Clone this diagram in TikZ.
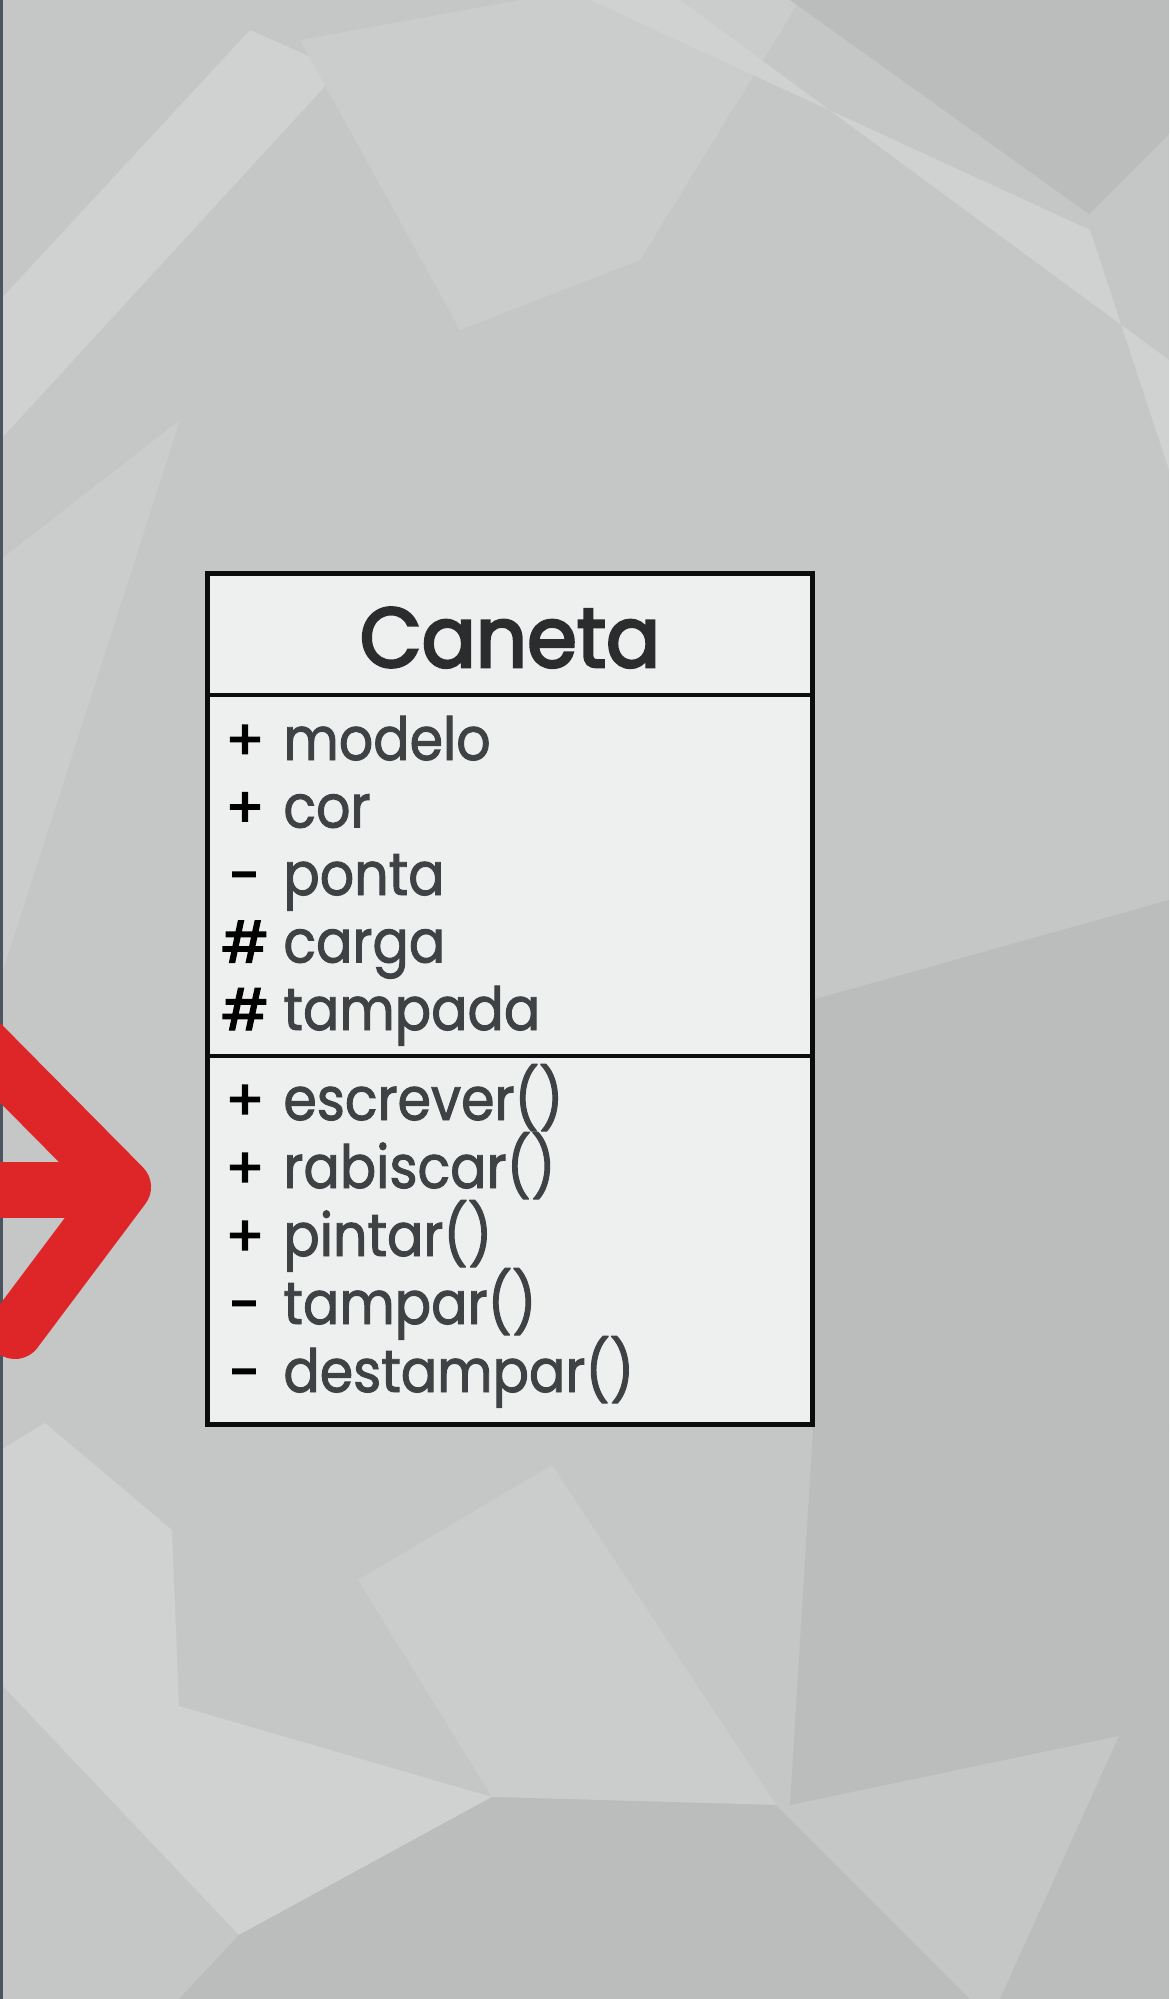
\documentclass[tikz,border=0pt]{standalone}
\usepackage{fontspec}
\setmainfont{Poppins}[FakeStretch=0.9, FakeBold=1.6]
\newfontfamily\titlefont{Poppins}[FakeStretch=0.95, FakeBold=3.2]
\newfontfamily\visfont{Poppins}[FakeBold=2.6]
\usetikzlibrary{positioning}

\definecolor{bgbase}{HTML}{C5C7C7}
\definecolor{bglight}{HTML}{D0D2D2}
\definecolor{bgpale}{HTML}{CBCDCD}
\definecolor{bgdark}{HTML}{BBBDBD}
\definecolor{boxfill}{HTML}{EEF0EF}
\definecolor{boxline}{HTML}{0C0C0C}
\definecolor{titlegray}{HTML}{2A2C2E}
\definecolor{textgray}{HTML}{3F4245}
\definecolor{arrowred}{RGB}{222,37,40}
\definecolor{edgeblue}{HTML}{4A5560}

\begin{document}
\begin{tikzpicture}[
  x=0.01cm, y=-0.01cm,
  facet/.style={draw=none},
  classbox/.style={draw=boxline, line width=1.5pt, fill=boxfill, inner sep=0pt},
  divider/.style={draw=boxline, line width=1.2pt},
  title/.style={font=\titlefont\fontsize{24}{28}\selectfont, text=titlegray, anchor=base},
  vis/.style={font=\visfont\fontsize{16}{20}\selectfont, text=black, anchor=base},
  member/.style={font=\fontsize{17}{20}\selectfont, text=textgray, anchor=base west},
  redarrow/.style={draw=arrowred, line width=0.56cm, line join=round},
]
\useasboundingbox (0,0) rectangle (1169,1999);
\clip (0,0) rectangle (1169,1999);

% Background facets
\fill[bgbase] (0,0) rectangle (1169,1999);
\fill[facet, bglight] (0,300) -- (250,30) -- (340,70) -- (0,440) -- cycle;
\fill[facet, bgpale] (300,40) -- (520,0) -- (800,0) -- (640,260) -- (460,330) -- cycle;
\fill[facet, bglight] (590,0) -- (680,0) -- (1169,360) -- (1169,470) -- (1090,230) -- cycle;
\fill[facet, bgdark] (790,0) -- (1169,0) -- (1169,134) -- (1089,214) -- cycle;
\fill[facet, bgpale] (0,560) -- (180,420) -- (0,980) -- cycle;
\fill[facet, bgdark] (812,1000) -- (1169,900) -- (1169,1430) -- (812,1430) -- cycle;
\fill[facet, bglight] (45,1423) -- (172,1530) -- (179,1706) -- (492,1797) -- (239,1935) -- (0,1683) -- (0,1450) -- cycle;
\fill[facet, bgpale] (358,1580) -- (552,1465) -- (776,1805) -- (492,1797) -- cycle;
\fill[facet, bgdark] (492,1797) -- (776,1805) -- (970,1999) -- (179,1999) -- (239,1935) -- cycle;
\fill[facet, bgpale] (1119,1603) -- (790,1805) -- (1119,1736) -- cycle;
\fill[facet, bgdark] (813,1430) -- (1169,1430) -- (1169,1999) -- (1000,1999) -- (1119,1736) -- (790,1805) -- cycle;
\fill[edgeblue] (0,0) rectangle (3,1999);

% Red arrow
\draw[redarrow, line cap=butt] (-60,1190) -- (125,1190);
\draw[redarrow, line cap=round] (-60,1002) -- (123,1187) -- (15,1331);

% Class box
\node[classbox, minimum width=6.04cm, minimum height=8.5cm] (caneta) at (510,999) {};
\draw[divider] (208,695) -- (812,695);
\draw[divider] (208,1056) -- (812,1056);

% Title
\node[title] (name) at (510,667) {Caneta};

% Attributes
\foreach \sym/\txt [count=\i] in {+/modelo, +/cor, -/ponta, \#/carga, \#/tampada}{
  \pgfmathsetmacro\yy{760+67.5*(\i-1)}
  \node[vis] (avis\i) at (245,\yy) {\sym};
  \node[member] (attr\i) at (271,\yy) {\txt};
}

% Methods
\foreach \sym/\txt [count=\i] in {+/escrever(), +/rabiscar(), +/pintar(), -/tampar(), -/destampar()}{
  \pgfmathsetmacro\yy{1120+68*(\i-1)}
  \node[vis] (mvis\i) at (245,\yy) {\sym};
  \node[member] (meth\i) at (271,\yy) {\txt};
}

\end{tikzpicture}
\end{document}
